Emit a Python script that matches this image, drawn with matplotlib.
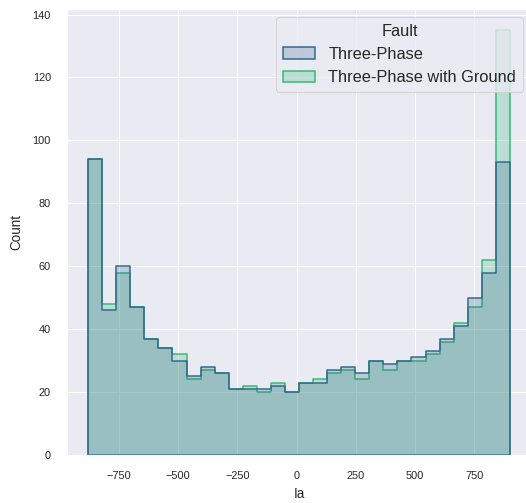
import numpy as np
import pandas as pd
import matplotlib
matplotlib.use("Agg")
import matplotlib.pyplot as plt
import seaborn as sns

# Histogram of phase current Ia (30 equal bins)
ia_min, ia_max = -880, 900
n_bins = 30
fault_types = ["Three-Phase", "Three-Phase with Ground"]
three_phase = [94, 46, 60, 47, 37, 34, 30, 25, 28, 26,
               21, 21, 21, 22, 20, 23, 23, 27, 28, 26,
               30, 29, 30, 31, 33, 37, 41, 50, 58, 93]
three_phase_ground = [94, 48, 58, 47, 37, 34, 32, 24, 27, 26,
                      21, 22, 20, 23, 20, 23, 24, 26, 27, 24,
                      30, 27, 30, 30, 32, 36, 42, 47, 62, 135]

edges = np.linspace(ia_min, ia_max, n_bins + 1)
centers = (edges[:-1] + edges[1:]) / 2
df = pd.DataFrame({
    "Ia": np.concatenate([centers, centers]),
    "Count": three_phase + three_phase_ground,
    "Fault": [fault_types[0]] * n_bins + [fault_types[1]] * n_bins,
})

sns.set_theme(style="darkgrid")
plt.rcParams["font.family"] = ["Liberation Sans", "DejaVu Sans"]

W, H, DPI = 526, 503, 72
fig = plt.figure(figsize=(W / DPI, H / DPI), dpi=DPI)
ax = fig.add_axes([67 / W, (H - 455) / H, (531 - 67) / W, (455 - 9) / H])

sns.histplot(data=df, x="Ia", weights="Count", hue="Fault", hue_order=fault_types,
             bins=n_bins, binrange=(ia_min, ia_max), element="step",
             palette="viridis", linewidth=1.5, ax=ax)

ax.set_xticks([-750, -500, -250, 0, 250, 500, 750])
ax.tick_params(labelsize=11, pad=10)
ax.set_xlabel("Ia", fontsize=13.5, labelpad=6)
ax.set_ylabel("Count", fontsize=13.5, labelpad=9)

sns.move_legend(ax, "upper right", fontsize=16.4, title_fontsize=16.4)

fig.savefig("out.png", dpi=DPI)
